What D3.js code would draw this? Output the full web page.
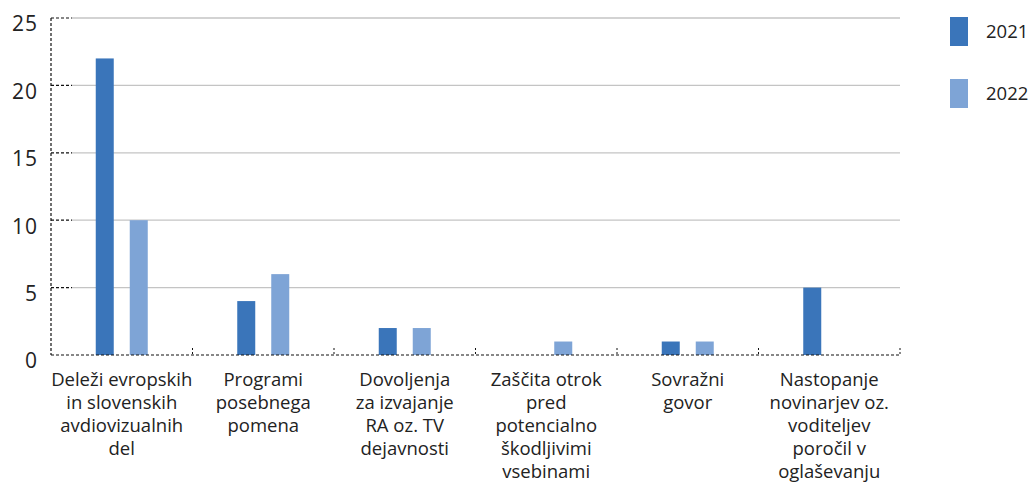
<!DOCTYPE html>
<html>
<head>
<meta charset="utf-8">
<script src="https://cdn.jsdelivr.net/npm/d3@7"></script>
<style>
  body { margin: 0; background: #fff; }
  text { font-family: "Open Sans", Lato, sans-serif; fill: #222; }
</style>
</head>
<body>
<svg width="1034" height="484"></svg>
<script>
const categories = [
    ['Deleži evropskih', 'in slovenskih', 'avdiovizualnih', 'del'],
    ['Programi', 'posebnega', 'pomena'],
    ['Dovoljenja', 'za izvajanje', 'RA oz. TV', 'dejavnosti'],
    ['Zaščita otrok', 'pred', 'potencialno', 'škodljivimi', 'vsebinami'],
    ['Sovražni', 'govor'],
    ['Nastopanje', 'novinarjev oz.', 'voditeljev', 'poročil v', 'oglaševanju']
];
const years = ['2021', '2022'];
const values2021 = [22, 4, 2, 0, 1, 5];
const values2022 = [10, 6, 2, 1, 1, 0];
const yTicks = [0, 5, 10, 15, 20, 25];
const colors = ['#3a75ba', '#7ea4d6'];

const series = [values2021, values2022];

const svg = d3.select('svg');
const plotLeft = 51, plotRight = 900, plotTop = 18, plotBottom = 355;

const x = d3.scaleBand().domain(d3.range(categories.length)).range([plotLeft, plotRight]);
const y = d3.scaleLinear().domain([0, 25]).range([plotBottom, plotTop]);
// two bars in a group, 18 wide, 34 apart
const xInner = d3.scaleBand().domain([0, 1]).range([x.bandwidth() / 2 - 26, x.bandwidth() / 2 + 26]).paddingInner(16 / 34);

// gridlines (gray) + dashed tick stubs
const grid = svg.append('g');
grid.selectAll('.grid')
    .data(yTicks.filter(t => t > 0))
    .enter()
    .append('line')
    .attr('x1', plotLeft + 21).attr('x2', plotRight)
    .attr('y1', d => y(d)).attr('y2', d => y(d))
    .attr('stroke', '#c4c4c4').attr('stroke-width', 1.3);

grid.selectAll('.stub')
    .data(yTicks.filter(t => t > 0))
    .enter()
    .append('line')
    .attr('x1', plotLeft).attr('x2', plotLeft + 21)
    .attr('y1', d => y(d)).attr('y2', d => y(d))
    .attr('stroke', '#111').attr('stroke-width', 1.2).attr('stroke-dasharray', '3,2');

// y axis dashed line
svg.append('line')
    .attr('x1', plotLeft).attr('x2', plotLeft)
    .attr('y1', y(25)).attr('y2', y(0))
    .attr('stroke', '#111').attr('stroke-width', 1.2).attr('stroke-dasharray', '3,2');

// tick labels
svg.selectAll('.ylab')
    .data(yTicks)
    .enter()
    .append('text')
    .attr('x', 38)
    .attr('y', d => y(d) + 6)
    .attr('dy', '0.35em')
    .attr('text-anchor', 'end')
    .style('font-size', '21px')
    .style('letter-spacing', '1px')
    .text(d => d);

// bars
series.forEach((vals, si) => {
    svg.append('g')
        .selectAll('rect')
        .data(vals)
        .enter()
        .append('rect')
        .attr('x', (d, i) => x(i) + xInner(si))
        .attr('width', xInner.bandwidth())
        .attr('y', d => y(d))
        .attr('height', d => y(0) - y(d))
        .attr('fill', colors[si]);
});

// zero line dashed with category tick marks
svg.append('line')
    .attr('x1', plotLeft).attr('x2', plotRight)
    .attr('y1', y(0)).attr('y2', y(0))
    .attr('stroke', '#111').attr('stroke-width', 1.2).attr('stroke-dasharray', '3,2');

svg.selectAll('.ctick')
    .data(d3.range(1, categories.length + 1))
    .enter()
    .append('line')
    .attr('x1', d => plotLeft + d * x.step()).attr('x2', d => plotLeft + d * x.step())
    .attr('y1', y(0) - 7).attr('y2', y(0))
    .attr('stroke', '#111').attr('stroke-dasharray', '2,2');

// category labels
const labels = svg.selectAll('.clab')
    .data(categories)
    .enter()
    .append('text')
    .attr('text-anchor', 'middle')
    .style('font-size', '18.5px');

labels.selectAll('tspan')
    .data((d, i) => d.map(line => ({line, i})))
    .enter()
    .append('tspan')
    .attr('x', d => x(d.i) + x.bandwidth() / 2)
    .attr('y', (d, j) => 386 + j * 23)
    .text(d => d.line);

// legend
const legend = svg.selectAll('.leg')
    .data(years)
    .enter()
    .append('g')
    .attr('transform', (d, i) => `translate(950, ${17 + i * 62})`);

legend.append('rect')
    .attr('width', 18).attr('height', 29)
    .attr('fill', (d, i) => colors[i]);

legend.append('text')
    .attr('x', 36).attr('y', 15)
    .attr('dy', '0.35em')
    .style('font-size', '18.5px')
    .text(d => d);
</script>
</body>
</html>
